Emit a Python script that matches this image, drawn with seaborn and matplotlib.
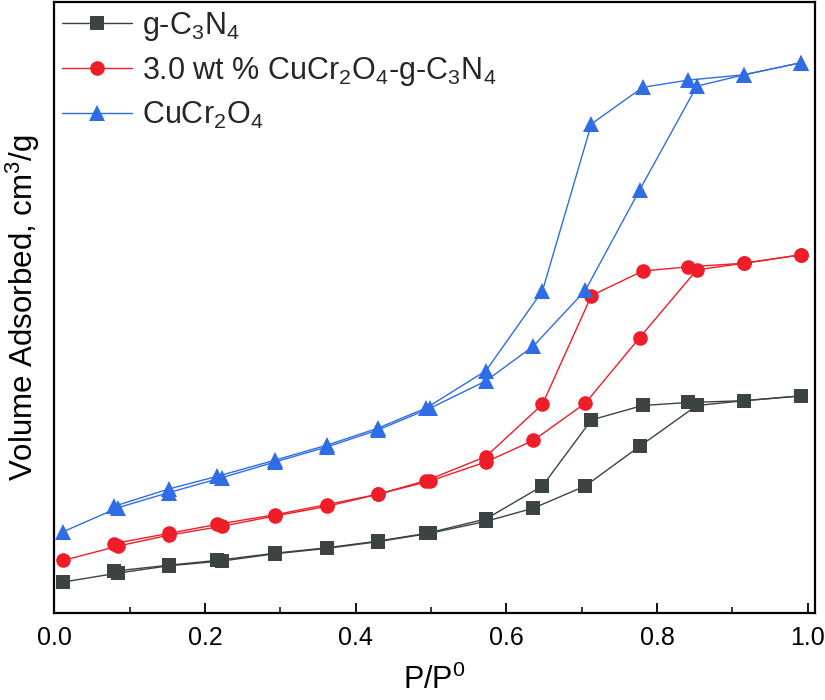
import numpy as np
import pandas as pd
import matplotlib
matplotlib.use("Agg")
import matplotlib.pyplot as plt
import seaborn as sns
from matplotlib.ticker import MultipleLocator

# ---- data ----
ads_x = [0.012, 0.085, 0.152, 0.223, 0.293, 0.362, 0.429, 0.498, 0.573, 0.636, 0.705, 0.777, 0.853, 0.916, 0.991]
des_x = [0.991, 0.916, 0.841, 0.781, 0.713, 0.648, 0.573, 0.494, 0.429, 0.362, 0.293, 0.216, 0.152, 0.079]

gcn_ads = [5.2, 6.7, 7.9, 8.7, 9.9, 10.8, 11.9, 13.3, 15.3, 17.5, 21.2, 27.8, 34.6, 35.4, 36.2]
gcn_des = [36.2, 35.4, 35.1, 34.6, 32.2, 21.2, 15.7, 13.3, 12.0, 10.9, 10.0, 8.8, 8.0, 7.0]

comp_ads = [8.8, 11.2, 13.0, 14.5, 16.2, 17.8, 19.8, 22.0, 25.2, 28.8, 35.0, 45.9, 57.2, 58.3, 59.7]
comp_des = [59.7, 58.3, 57.7, 57.0, 52.9, 34.8, 26.1, 22.1, 19.8, 18.1, 16.4, 14.8, 13.3, 11.6]

ccr_ads = [13.6, 17.6, 20.1, 22.6, 25.2, 27.7, 30.5, 34.1, 38.7, 44.5, 53.8, 70.5, 87.8, 89.7, 91.7]
ccr_des = [91.7, 89.7, 88.8, 87.6, 81.5, 53.7, 40.4, 34.2, 30.8, 28.0, 25.5, 22.8, 20.7, 17.8]

labels = [r"g-C$_3$N$_4$", r"3.0 wt % CuCr$_2$O$_4$-g-C$_3$N$_4$", r"CuCr$_2$O$_4$"]
x_ticks = [0.0, 0.2, 0.4, 0.6, 0.8, 1.0]

# ---- style ----
sns.set_theme(style="white")
plt.rcParams["font.family"] = ["Liberation Sans", "DejaVu Sans"]
plt.rcParams["mathtext.fontset"] = "custom"
plt.rcParams["mathtext.rm"] = "Liberation Sans"
plt.rcParams["mathtext.it"] = "Liberation Sans:italic"
plt.rcParams["mathtext.bf"] = "Liberation Sans:bold"
plt.rcParams["mathtext.default"] = "regular"

fig = plt.figure(figsize=(8.25, 7.0), dpi=100)
ax = fig.add_axes([0.066, 0.124, 0.922, 0.873])

series = [
    (gcn_ads, gcn_des, "#3b4443", "s", 9.5, labels[0]),
    (comp_ads, comp_des, "#ee1d27", "o", 10.5, labels[1]),
    (ccr_ads, ccr_des, "#2f6de6", "^", 12, labels[2]),
]

for ads, des, col, mk, ms, lab in series:
    sns.lineplot(x=ads_x, y=ads, sort=False, ax=ax, color=col, marker=mk,
                 markersize=ms, markeredgewidth=0, linewidth=1.0, label=lab)
    sns.lineplot(x=des_x, y=des, sort=False, ax=ax, color=col, marker=mk,
                 markersize=ms, markeredgewidth=0, linewidth=1.0, label="_nolegend_")

ax.set_xlim(0.0, 1.01)
ax.set_ylim(0, 101.8)
ax.set_xticks(x_ticks)
ax.set_xticklabels([f"{t:.1f}" for t in x_ticks])
ax.xaxis.set_minor_locator(MultipleLocator(0.1))
ax.set_yticks([])
ax.tick_params(axis="x", which="major", direction="in", length=7.5, width=1.3,
               labelsize=18, pad=9, bottom=True, top=False, colors="black")
ax.tick_params(axis="x", which="minor", direction="in", length=4, width=1.3,
               bottom=True, top=False)
for sp in ax.spines.values():
    sp.set_visible(True)
    sp.set_color("black")
    sp.set_linewidth(1.6)

ax.set_xlabel(r"P/P$^0$", fontsize=22, labelpad=11, color="black")
ax.set_ylabel(r"Volume Adsorbed, cm$^3$/g", fontsize=22.5, labelpad=9, color="black")

leg = ax.legend(loc="upper left", bbox_to_anchor=(0.0, 1.0), frameon=False,
                fontsize=22, handlelength=2.3, handletextpad=0.3,
                borderaxespad=0.1, borderpad=0.15, labelspacing=0.4)

fig.savefig("out.png", dpi=100)
